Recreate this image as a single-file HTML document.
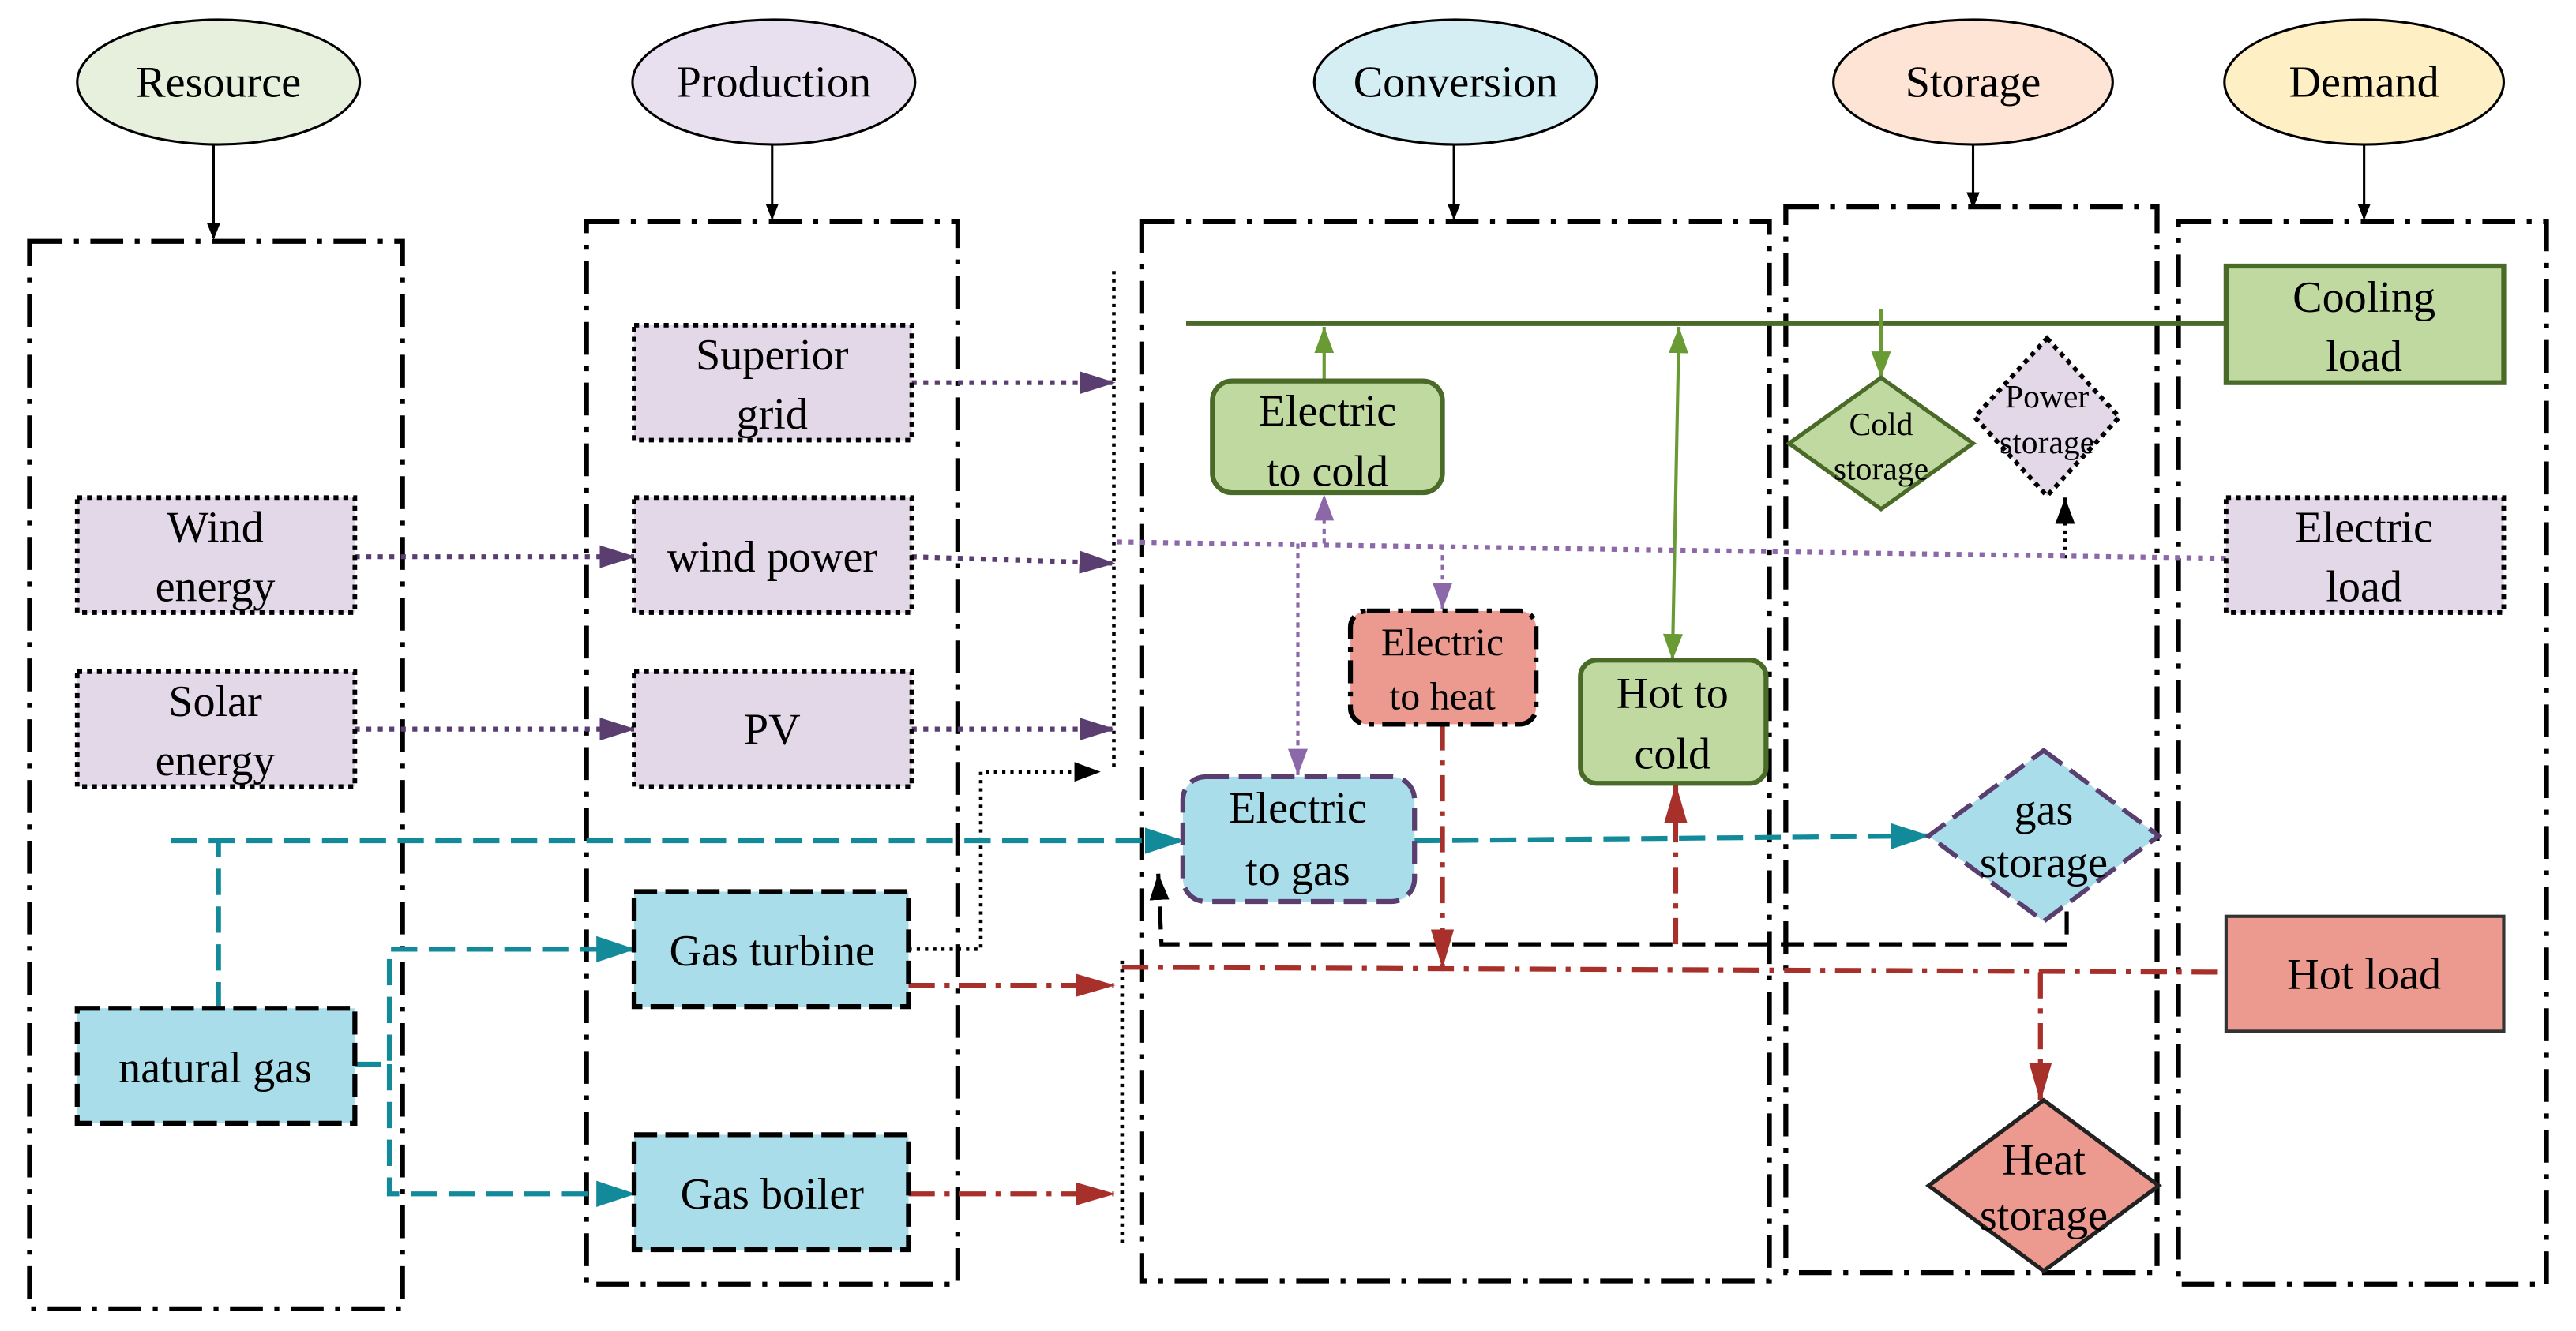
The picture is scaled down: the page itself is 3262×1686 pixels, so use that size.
<!DOCTYPE html>
<html><head><meta charset="utf-8"><style>
html,body{margin:0;padding:0;background:#fff}
svg{display:block}
svg text{font-family:"Liberation Serif","DejaVu Serif",serif;fill:#000;text-anchor:middle}
</style></head><body>
<svg width="3262" height="1686" viewBox="0 0 1568 810.5" preserveAspectRatio="none" xmlns="http://www.w3.org/2000/svg" font-family="Liberation Serif, DejaVu Serif, serif">
<defs>
<marker id="ab" markerWidth="10" markerHeight="8" refX="9" refY="4" orient="auto" markerUnits="userSpaceOnUse"><path d="M0,0L10,4L0,8z" fill="#000"/></marker>
<marker id="ap" markerWidth="22" markerHeight="14" refX="21" refY="7" orient="auto" markerUnits="userSpaceOnUse"><path d="M0,0L22,7L0,14z" fill="#5a3e70"/></marker>
<marker id="alp" markerWidth="16" markerHeight="18" refX="16" refY="6" orient="auto" markerUnits="userSpaceOnUse"><path d="M0,0L16,6L0,12z" fill="#8c68a8"/></marker>
<marker id="at" markerWidth="24" markerHeight="16" refX="23" refY="8" orient="auto" markerUnits="userSpaceOnUse"><path d="M0,0L24,8L0,16z" fill="#138a9a"/></marker>
<marker id="ar" markerWidth="24" markerHeight="14" refX="23" refY="7" orient="auto" markerUnits="userSpaceOnUse"><path d="M0,0L24,7L0,14z" fill="#a8302a"/></marker>
<marker id="ag" markerWidth="16" markerHeight="12" refX="16" refY="6" orient="auto" markerUnits="userSpaceOnUse"><path d="M0,0L16,6L0,12z" fill="#6a9a34"/></marker>
<marker id="ag2" markerWidth="16" markerHeight="12" refX="0" refY="6" orient="auto" markerUnits="userSpaceOnUse"><path d="M16,0L0,6L16,12z" fill="#6a9a34"/></marker>
<marker id="abk" markerWidth="16" markerHeight="12" refX="16" refY="6" orient="auto" markerUnits="userSpaceOnUse"><path d="M0,0L16,6L0,12z" fill="#000"/></marker>
</defs>

<g stroke="#000" stroke-width="1.5">
<ellipse cx="133" cy="50" rx="86" ry="38" fill="#e6f0dc"/>
<ellipse cx="471" cy="50" rx="86" ry="38" fill="#e8e0ee"/>
<ellipse cx="886" cy="50" rx="86" ry="38" fill="#d4eef4"/>
<ellipse cx="1201" cy="50" rx="85" ry="38" fill="#fde4d4"/>
<ellipse cx="1439" cy="50" rx="85" ry="38" fill="#fef0c4"/>
</g>
<g font-size="27">
<text x="133" y="59">Resource</text>
<text x="471" y="59">Production</text>
<text x="886" y="59">Conversion</text>
<text x="1201" y="59">Storage</text>
<text x="1439" y="59">Demand</text>
</g>
<g stroke="#000" stroke-width="1.5" marker-end="url(#ab)">
<line x1="130" y1="88" x2="130" y2="145"/>
<line x1="470" y1="88" x2="470" y2="133"/>
<line x1="885" y1="88" x2="885" y2="133"/>
<line x1="1201" y1="88" x2="1201" y2="126"/>
<line x1="1439" y1="88" x2="1439" y2="133"/>
</g>

<g fill="none" stroke="#000" stroke-width="3" stroke-dasharray="20,7,3,7">
<rect x="18" y="147" width="227" height="650"/>
<rect x="357" y="135" width="226" height="647"/>
<rect x="695" y="135" width="382" height="645"/>
<rect x="1087" y="126" width="226" height="649"/>
<rect x="1326" y="135" width="224" height="647"/>
</g>

<g fill="none" stroke="#000" stroke-width="2.2" stroke-dasharray="2,3">
<line x1="678" y1="165" x2="678" y2="470"/>
<line x1="683" y1="585" x2="683" y2="760"/>
<polyline points="553,578 597,578 597,470 670,470" marker-end="url(#abk)"/>
<line x1="1257" y1="340" x2="1257" y2="303" marker-end="url(#abk)"/>
</g>
<polyline points="1258,555 1258,575 707,575 705,532" fill="none" stroke="#000" stroke-width="2.5" stroke-dasharray="14,6" marker-end="url(#abk)"/>

<line x1="722" y1="197" x2="1355" y2="197" stroke="#4a6a28" stroke-width="3"/>
<g stroke="#6a9a34" stroke-width="2" fill="none">
<line x1="806" y1="232" x2="806" y2="199" marker-end="url(#ag)"/>
<line x1="1022" y1="199" x2="1018" y2="402" marker-start="url(#ag2)" marker-end="url(#ag)"/>
<line x1="1145" y1="188" x2="1145" y2="230" marker-end="url(#ag)"/>
</g>

<g stroke="#5a3e70" stroke-width="3" stroke-dasharray="3,4" fill="none" marker-end="url(#ap)">
<line x1="555" y1="233" x2="678" y2="233"/>
<line x1="216" y1="339" x2="386" y2="339"/>
<line x1="555" y1="339" x2="678" y2="343"/>
<line x1="216" y1="444" x2="386" y2="444"/>
<line x1="555" y1="444" x2="678" y2="444"/>
</g>
<line x1="680" y1="330" x2="1355" y2="340" stroke="#8c68a8" stroke-width="3" stroke-dasharray="3,4"/>
<g stroke="#8c68a8" stroke-width="2" stroke-dasharray="3,3" fill="none" marker-end="url(#alp)">
<line x1="806" y1="331" x2="806" y2="301"/>
<line x1="790" y1="331" x2="790" y2="472"/>
<line x1="878" y1="332" x2="878" y2="371"/>
</g>

<g stroke="#138a9a" stroke-width="3" stroke-dasharray="16,7" fill="none">
<polyline points="133,614 133,512"/>
<line x1="104" y1="512" x2="720" y2="512" marker-end="url(#at)"/>
<polyline points="216,648 237,648 237,578 386,578" marker-end="url(#at)"/>
<polyline points="237,648 237,727 386,727" marker-end="url(#at)"/>
<line x1="861" y1="512" x2="1174" y2="509" marker-end="url(#at)"/>
</g>

<g stroke="#a8302a" stroke-width="3" stroke-dasharray="16,6,3,6" fill="none">
<line x1="553" y1="600" x2="678" y2="600" marker-end="url(#ar)"/>
<line x1="553" y1="727" x2="678" y2="727" marker-end="url(#ar)"/>
<line x1="683" y1="589" x2="1355" y2="592"/>
<line x1="878" y1="441" x2="878" y2="589" marker-end="url(#ar)"/>
<line x1="1020" y1="575" x2="1020" y2="478" marker-end="url(#ar)"/>
<line x1="1242" y1="592" x2="1242" y2="670" marker-end="url(#ar)"/>
</g>

<g stroke="#000" stroke-width="2.8" stroke-dasharray="3,3" fill="#e2d8e8">
<rect x="386" y="198" width="169" height="70"/>
<rect x="47" y="303" width="169" height="70"/>
<rect x="386" y="303" width="169" height="70"/>
<rect x="47" y="409" width="169" height="70"/>
<rect x="386" y="409" width="169" height="70"/>
<rect x="1355" y="303" width="169" height="70"/>
</g>
<g stroke="#000" stroke-width="3" stroke-dasharray="14,5" fill="#a8dde9">
<rect x="386" y="543" width="167" height="70"/>
<rect x="47" y="614" width="169" height="70"/>
<rect x="386" y="691" width="167" height="70"/>
</g>
<rect x="1355" y="162" width="169" height="71" fill="#c0d9a0" stroke="#4a6a28" stroke-width="3"/>
<rect x="1355" y="558" width="169" height="70" fill="#ec9a90" stroke="#333" stroke-width="2"/>

<rect x="738" y="232" width="140" height="68" rx="12" fill="#c0d9a0" stroke="#4a6a28" stroke-width="3"/>
<rect x="962" y="402" width="113" height="75" rx="10" fill="#c0d9a0" stroke="#4a6a28" stroke-width="3"/>
<rect x="822" y="372" width="113" height="69" rx="10" fill="#ec9a90" stroke="#000" stroke-width="3" stroke-dasharray="14,5,3,5"/>
<rect x="720" y="473" width="141" height="76" rx="14" fill="#a8dde9" stroke="#5a3e70" stroke-width="3" stroke-dasharray="14,6"/>

<polygon points="1145,230 1201,270 1145,310 1089,270" fill="#c0d9a0" stroke="#4a6a28" stroke-width="2.5"/>
<polygon points="1246,206 1290,254 1246,302 1202,254" fill="#e2d8e8" stroke="#000" stroke-width="2.8" stroke-dasharray="3,3"/>
<polygon points="1244,457 1314,509 1244,561 1174,509" fill="#a8dde9" stroke="#5a3e70" stroke-width="2.8" stroke-dasharray="14,6"/>
<polygon points="1244,670 1314,722 1244,774 1174,722" fill="#ec9a90" stroke="#222" stroke-width="2.5"/>

<g font-size="27">
<text x="470" y="225">Superior</text><text x="470" y="261">grid</text>
<text x="131" y="330">Wind</text><text x="131" y="366">energy</text>
<text x="470" y="348">wind power</text>
<text x="131" y="436">Solar</text><text x="131" y="472">energy</text>
<text x="470" y="453">PV</text>
<text x="470" y="588">Gas turbine</text>
<text x="131" y="659">natural gas</text>
<text x="470" y="736">Gas boiler</text>
<text x="1439" y="190">Cooling</text><text x="1439" y="226">load</text>
<text x="1439" y="330">Electric</text><text x="1439" y="366">load</text>
<text x="1439" y="602">Hot load</text>
<text x="808" y="259">Electric</text><text x="808" y="296">to cold</text>
<text x="1018" y="431">Hot to</text><text x="1018" y="468">cold</text>
<text x="790" y="501">Electric</text><text x="790" y="539">to gas</text>
<text x="1244" y="502">gas</text><text x="1244" y="534">storage</text>
<text x="1244" y="715">Heat</text><text x="1244" y="749">storage</text>
</g>
<g font-size="24">
<text x="878" y="399">Electric</text><text x="878" y="432">to heat</text>
</g>
<g font-size="20">
<text x="1145" y="265">Cold</text><text x="1145" y="292">storage</text>
<text x="1246" y="248">Power</text><text x="1246" y="276">storage</text>
</g>
</svg>
</body></html>
